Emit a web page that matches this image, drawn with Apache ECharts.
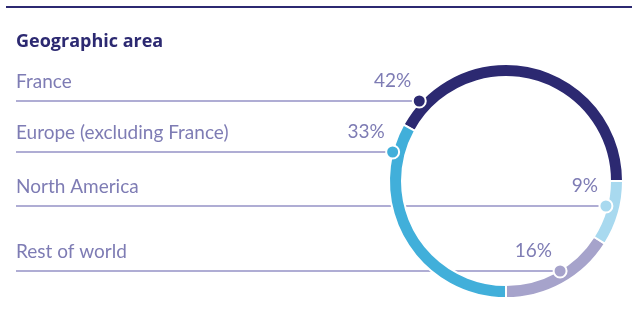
<!DOCTYPE html>
<html>
<head>
<meta charset="utf-8">
<script src="https://cdn.jsdelivr.net/npm/echarts@6/dist/echarts.min.js"></script>
<style>
  html, body { margin: 0; padding: 0; background: #ffffff; }
  #chart { width: 632px; height: 332px; }
</style>
</head>
<body>
<div id="chart"></div>
<script>
// ---- Data (ring order, counter-clockwise from 3 o'clock) ----
const categories = ['France', 'Europe (excluding France)', 'Rest of world', 'North America'];
const values = [42, 33, 16, 9];
const titleText = 'Geographic area';

// ---- Layout / style (not data) ----
const colors = ['#2c2971', '#41afda', '#a6a3cb', '#a8d9ef'];
const CX = 506, CY = 181;
const RING_IN = 104, RING_OUT = 117;
const POLAR_R = 130;
const LEFT_X = 16;
const rowY = { 'France': 101, 'Europe (excluding France)': 152, 'North America': 206, 'Rest of world': 271 };
const dotR = { 'France': 118, 'Europe (excluding France)': 117, 'North America': 103, 'Rest of world': 105 };
const TEXT_COLOR = '#7e7cb4';
const LINE_COLOR = '#9592c6';
const FONT = 'Lato, "Open Sans", sans-serif';

// compute where each row's leader line meets its slice
const total = values.reduce((a, b) => a + b, 0);
let acc = 0;
const dots = categories.map((name, i) => {
  const a0 = acc / total * 360;
  acc += values[i];
  const a1 = acc / total * 360;
  const y = rowY[name], r = dotR[name];
  const dy = y - CY;
  const dx = Math.sqrt(Math.max(r * r - dy * dy, 0));
  const norm = a => (a % 360 + 360) % 360;
  const leftAng = norm(Math.atan2(-dy, -dx) * 180 / Math.PI);
  const rightAng = norm(Math.atan2(-dy, dx) * 180 / Math.PI);
  const inRange = a => a >= a0 && a <= a1;
  const useLeft = inRange(leftAng);
  return { x: useLeft ? CX - dx : CX + dx, y: y, r: r, angle: useLeft ? leftAng : rightAng };
});

const chart = echarts.init(document.getElementById('chart'), null, { renderer: 'canvas' });

const pieData = categories.map((name, i) => ({ name: name, value: values[i], itemStyle: { color: colors[i] } }));

chart.setOption({
  animation: false,
  backgroundColor: '#ffffff',
  title: {
    text: titleText,
    left: LEFT_X,
    top: 33,
    padding: 0,
    textStyle: { color: '#2c2971', fontSize: 18, fontWeight: 'bold', fontFamily: '"Open Sans", Lato, sans-serif' }
  },
  graphic: [{
    type: 'rect',
    shape: { x: 6, y: 6, width: 626, height: 2 },
    style: { fill: '#2c2971' },
    silent: true
  }],
  polar: { center: [CX, CY], radius: POLAR_R },
  angleAxis: { type: 'value', min: 0, max: 360, startAngle: 0, clockwise: false, show: false },
  radiusAxis: { type: 'value', min: 0, max: POLAR_R, show: false },
  series: [
    {
      type: 'pie',
      center: [CX, CY],
      radius: [RING_IN, RING_OUT],
      startAngle: 0,
      clockwise: false,
      avoidLabelOverlap: false,
      silent: true,
      itemStyle: { borderColor: '#ffffff', borderWidth: 2 },
      label: {
        show: true,
        position: 'outside',
        formatter: '{b}',
        color: TEXT_COLOR,
        fontSize: 19,
        fontFamily: FONT
      },
      labelLine: { show: true, smooth: false, lineStyle: { color: LINE_COLOR, width: 1.5 } },
      labelLayout: function (p) {
        const d = dots[p.dataIndex];
        return {
          x: LEFT_X,
          y: d.y - 19,
          align: 'left',
          verticalAlign: 'middle',
          labelLinePoints: [[d.x, d.y], [(d.x + LEFT_X) / 2, d.y], [LEFT_X, d.y]]
        };
      },
      data: pieData,
      z: 2
    },
    {
      type: 'pie',
      center: [CX, CY],
      radius: [RING_IN, RING_OUT],
      startAngle: 0,
      clockwise: false,
      avoidLabelOverlap: false,
      silent: true,
      itemStyle: { color: 'rgba(0,0,0,0)', borderWidth: 0 },
      label: {
        show: true,
        position: 'outside',
        formatter: '{c}%',
        color: TEXT_COLOR,
        fontSize: 19,
        fontFamily: FONT
      },
      labelLine: { show: false },
      labelLayout: function (p) {
        const d = dots[p.dataIndex];
        return { x: d.x - 8, y: d.y - 20, align: 'right', verticalAlign: 'middle' };
      },
      data: categories.map((name, i) => ({ name: name, value: values[i] })),
      z: 1
    },
    {
      type: 'scatter',
      coordinateSystem: 'polar',
      symbol: 'circle',
      symbolSize: 13,
      silent: true,
      zlevel: 1,
      z: 10,
      itemStyle: { opacity: 1 },
      data: dots.map((d, i) => ({ value: [d.r, d.angle], itemStyle: { color: colors[i], borderColor: '#ffffff', borderWidth: 2, opacity: 1 } }))
    }
  ]
});
</script>
</body>
</html>
